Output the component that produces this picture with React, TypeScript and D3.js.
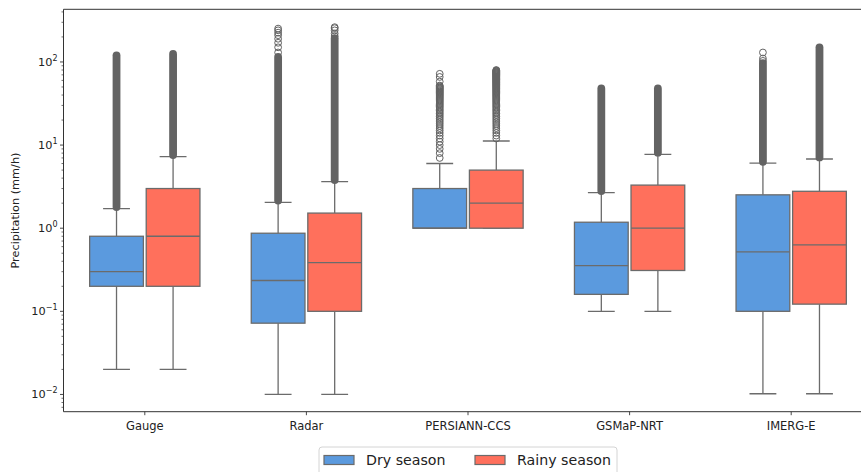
import React from "react";
import * as d3 from "d3";

// Product categories and season groups
const categories = ["Gauge", "Radar", "PERSIANN-CCS", "GSMaP-NRT", "IMERG-E"];
const seasons = ["Dry season", "Rainy season"];
const seasonColors = ["#5b9ade", "#ff705c"];

// Box statistics (mm/h), one value per category
const dryWhiskerLow = [0.02, 0.01, 1.0, 0.1, 0.0102];
const dryQ1 = [0.2, 0.072, 1.0, 0.16, 0.1];
const dryMedian = [0.3, 0.235, 1.0, 0.355, 0.52];
const dryQ3 = [0.8, 0.87, 3.0, 1.18, 2.52];
const dryWhiskerHigh = [1.72, 2.05, 6.0, 2.68, 6.05];

const rainyWhiskerLow = [0.02, 0.01, 1.0, 0.1, 0.0102];
const rainyQ1 = [0.2, 0.1, 1.0, 0.31, 0.122];
const rainyMedian = [0.8, 0.385, 2.0, 1.0, 0.63];
const rainyQ3 = [3.0, 1.52, 5.0, 3.3, 2.78];
const rainyWhiskerHigh = [7.25, 3.64, 11.2, 7.75, 6.8];

// Outliers: densely packed runs given as [lowest, highest], plus isolated values
const dryOutlierRuns: ([number, number] | null)[] = [[1.8, 120], [2.15, 115], null, [2.8, 48], [6.3, 97]];
const rainyOutlierRuns: ([number, number] | null)[] = [[7.6, 125], [3.8, 193], null, [8.1, 48], [7.1, 150]];

const persiannDryOutliers = [
  7, 8, 9, 10, 11, 12, 13, 14, 15, 16, 17, 18, 19, 20, 21, 22, 23, 24, 25, 26, 27, 28, 29, 30,
  31, 32, 33, 34, 35, 36, 37, 38, 39, 40, 41, 42, 43, 44, 45, 46, 47, 48, 49, 50, 51, 52, 58, 66, 72,
];
const persiannRainyOutliers = [
  12, 13, 14, 15, 16, 17, 18, 19, 20, 21, 22, 23, 24, 25, 26, 27, 28, 29, 30, 31, 32, 33, 34, 35,
  36, 37, 38, 39, 40, 41, 42, 43, 44, 45, 46, 47, 48, 49, 50, 51, 52, 53, 54, 55, 56, 57, 58, 59,
  60, 61, 62, 63, 64, 65, 66, 67, 68, 69, 70, 71, 72, 73, 74, 75, 76, 77, 78, 79, 80,
];
const dryOutlierPoints: number[][] = [[], [130, 150, 170, 190, 210, 225, 240, 252], persiannDryOutliers, [], [103, 110, 130]];
const rainyOutlierPoints: number[][] = [[], [205, 220, 240, 255, 262], persiannRainyOutliers, [], []];

const yTicks = [0.01, 0.1, 1, 10, 100];
const yTickExponents = ["−2", "−1", "0", "1", "2"];

const W = 861;
const H = 472;
const plotLeft = 64;
const plotRight = 872;
const plotTop = 9.3;
const plotBottom = 411.7;

const FONT = "DejaVu Sans, sans-serif";
const LINE = "#6b6b6b";
const FLIER = "#636363";

type SeasonStats = {
  lo: number[];
  q1: number[];
  med: number[];
  q3: number[];
  hi: number[];
  runs: ([number, number] | null)[];
  points: number[][];
};

const seasonStats: SeasonStats[] = [
  { lo: dryWhiskerLow, q1: dryQ1, med: dryMedian, q3: dryQ3, hi: dryWhiskerHigh, runs: dryOutlierRuns, points: dryOutlierPoints },
  { lo: rainyWhiskerLow, q1: rainyQ1, med: rainyMedian, q3: rainyQ3, hi: rainyWhiskerHigh, runs: rainyOutlierRuns, points: rainyOutlierPoints },
];

export default function App() {
  const x = d3.scaleBand<string>().domain(categories).range([plotLeft, plotRight]).padding(0);
  const bw = x.bandwidth();
  const hue = d3.scaleBand<string>().domain(seasons).range([-0.35 * bw, 0.35 * bw]).padding(0);
  const slot = hue.bandwidth();
  const boxW = slot * 0.95;
  const capW = boxW / 2;

  const y = d3.scaleLog().domain([0.0062, 430]).range([plotBottom, plotTop]);

  const minorTicks: number[] = [];
  for (let e = -3; e <= 2; e++) {
    for (let m = 2; m <= 9; m++) {
      const v = m * Math.pow(10, e);
      if (y(v) <= plotBottom && y(v) >= plotTop) minorTicks.push(v);
    }
  }

  const r = 3.4;

  return (
    <svg width={W} height={H} style={{ position: "absolute", left: 0, top: 0, background: "#fff" }} fontFamily={FONT}>
      <defs>
        <clipPath id="plotClip">
          <rect x={plotLeft} y={plotTop} width={plotRight - plotLeft} height={plotBottom - plotTop} />
        </clipPath>
      </defs>

      <g clipPath="url(#plotClip)">
        {categories.map((cat, ci) =>
          seasons.map((s, si) => {
            const st = seasonStats[si];
            const cx = (x(cat) as number) + bw / 2 + (hue(s) as number) + slot / 2;
            const run = st.runs[ci];
            return (
              <g key={cat + s}>
                {/* whiskers */}
                <line x1={cx} x2={cx} y1={y(st.q3[ci])} y2={y(st.hi[ci])} stroke={LINE} strokeWidth={1.3} />
                <line x1={cx} x2={cx} y1={y(st.q1[ci])} y2={y(st.lo[ci])} stroke={LINE} strokeWidth={1.3} />
                <line x1={cx - capW / 2} x2={cx + capW / 2} y1={y(st.hi[ci])} y2={y(st.hi[ci])} stroke={LINE} strokeWidth={1.3} />
                <line x1={cx - capW / 2} x2={cx + capW / 2} y1={y(st.lo[ci])} y2={y(st.lo[ci])} stroke={LINE} strokeWidth={1.3} />
                {/* box */}
                <rect
                  x={cx - boxW / 2}
                  y={y(st.q3[ci])}
                  width={boxW}
                  height={Math.max(0, y(st.q1[ci]) - y(st.q3[ci]))}
                  fill={seasonColors[si]}
                  stroke={LINE}
                  strokeWidth={1.3}
                />
                <line x1={cx - boxW / 2} x2={cx + boxW / 2} y1={y(st.med[ci])} y2={y(st.med[ci])} stroke={LINE} strokeWidth={1.3} />
                {/* outliers */}
                {run && (
                  <line
                    x1={cx}
                    x2={cx}
                    y1={y(run[0])}
                    y2={y(run[1])}
                    stroke={FLIER}
                    strokeWidth={2 * r + 1}
                    strokeLinecap="round"
                  />
                )}
                {st.points[ci].map((v, k) => (
                  <circle key={k} cx={cx} cy={y(v)} r={r} fill="none" stroke={FLIER} strokeWidth={1} />
                ))}
              </g>
            );
          })
        )}
      </g>

      {/* spines */}
      <line x1={plotLeft - 0.5} x2={plotLeft - 0.5} y1={plotTop} y2={plotBottom} stroke="#333" strokeWidth={1} />
      <line x1={plotLeft - 0.5} x2={W} y1={plotBottom} y2={plotBottom} stroke="#333" strokeWidth={1} />
      <line x1={plotLeft - 0.5} x2={W} y1={plotTop} y2={plotTop} stroke="#333" strokeWidth={1} />

      {/* y axis */}
      {minorTicks.map((v, i) => (
        <line key={"m" + i} x1={plotLeft - 0.5} x2={plotLeft - 2.5} y1={y(v)} y2={y(v)} stroke="#333" strokeWidth={0.7} />
      ))}
      {yTicks.map((v, i) => (
        <g key={"y" + i}>
          <line x1={plotLeft - 0.5} x2={plotLeft - 4} y1={y(v)} y2={y(v)} stroke="#333" strokeWidth={0.9} />
          <text x={plotLeft - 6.5} y={y(v) + 4} textAnchor="end" fontSize={11.3} fill="#222">
            10
            <tspan dy={-5} fontSize={8}>{yTickExponents[i]}</tspan>
          </text>
        </g>
      ))}
      <text
        transform={`translate(${19},${(plotTop + plotBottom) / 2}) rotate(-90)`}
        textAnchor="middle"
        fontSize={11.3}
        fill="#222"
      >
        Precipitation (mm/h)
      </text>

      {/* x axis */}
      {categories.map((cat) => {
        const cx = (x(cat) as number) + bw / 2;
        return (
          <g key={"x" + cat}>
            <line x1={cx} x2={cx} y1={plotBottom} y2={plotBottom + 3.5} stroke="#333" strokeWidth={0.9} />
            <text x={cx} y={430} textAnchor="middle" fontSize={11.5} fill="#222">
              {cat}
            </text>
          </g>
        );
      })}

      {/* legend */}
      <rect x={319} y={447} width={298} height={36} rx={3} fill="#fff" stroke="#d4d4d4" strokeWidth={1} />
      {seasons.map((s, i) => {
        const lx = i === 0 ? 324 : 475;
        return (
          <g key={"lg" + s}>
            <rect x={lx} y={455.5} width={30} height={9} fill={seasonColors[i]} stroke={LINE} strokeWidth={1.2} />
            <text x={lx + 42} y={464.5} fontSize={14.2} fill="#222">
              {s}
            </text>
          </g>
        );
      })}
    </svg>
  );
}
